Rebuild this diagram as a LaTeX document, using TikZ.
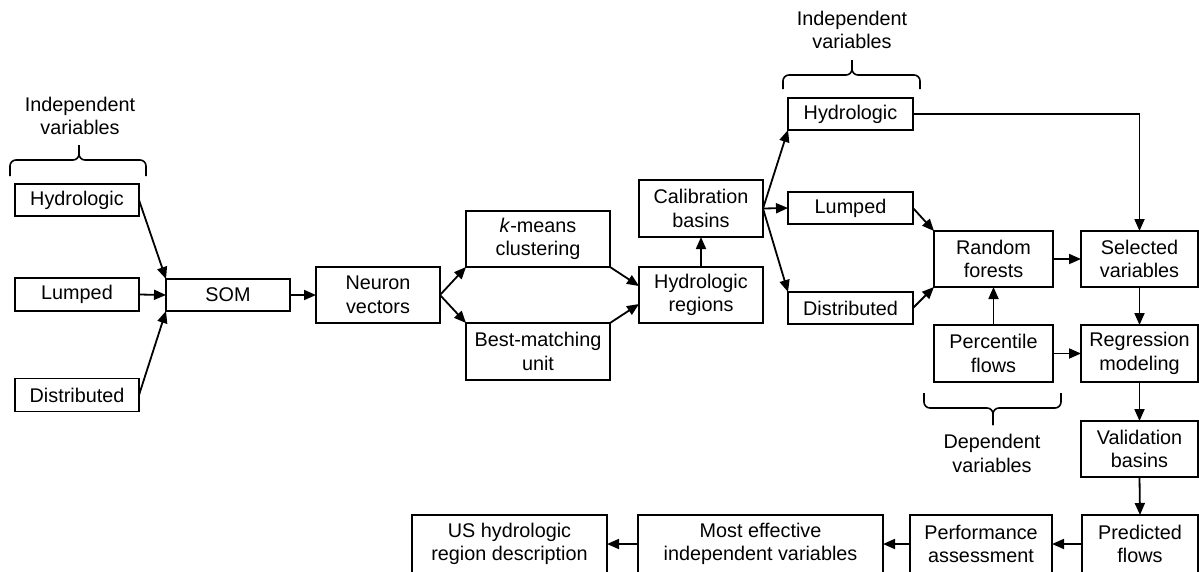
\documentclass[tikz,border=0pt]{standalone}
\usepackage{fontspec}
\setmainfont{Liberation Sans}
\usetikzlibrary{arrows.meta}
\begin{document}
\begin{tikzpicture}[x=1pt,y=-1pt,
  box/.style={draw, line width=1.8pt, align=center, inner sep=2pt, outer sep=0pt, font=\fontsize{19.8}{23.5}\selectfont},
  arr/.style={line width=1.8pt, -{Triangle[length=12pt,width=10pt]}},
  lbl/.style={align=center, inner sep=0pt, font=\fontsize{19.8}{23.5}\selectfont},
  brc/.style={line width=1.6pt, rounded corners=6pt}]
\useasboundingbox (0,0) rectangle (1199,571);

% left column
\node[box, minimum width=124pt, minimum height=32pt] (hl) at (77,200) {Hydrologic};
\node[box, minimum width=124pt, minimum height=33pt] (lu) at (77,294.5) {Lumped};
\node[box, minimum width=124pt, minimum height=33pt] (di) at (77,395) {Distributed};
\node[box, minimum width=124pt, minimum height=32pt] (som) at (228,295) {SOM};
\node[box, minimum width=124pt, minimum height=56pt] (nv) at (378,295) {Neuron\\vectors};
\node[box, minimum width=144pt, minimum height=56pt] (km) at (538,239) {\textit{k}-means\\clustering};
\node[box, minimum width=144pt, minimum height=57pt] (bmu) at (538,351.5) {Best-matching\\unit};
\node[box, minimum width=124pt, minimum height=56pt] (hr) at (701,295) {Hydrologic\\regions};
\node[box, minimum width=124pt, minimum height=57pt] (cb) at (701,208.5) {Calibration\\basins};
\node[box, minimum width=125pt, minimum height=32pt] (hl2) at (850.5,114) {Hydrologic};
\node[box, minimum width=125pt, minimum height=32pt] (lu2) at (850.5,208) {Lumped};
\node[box, minimum width=125pt, minimum height=32pt] (di2) at (850.5,308) {Distributed};
\node[box, minimum width=119pt, minimum height=56pt] (rf) at (993.5,259) {Random\\forests};
\node[box, minimum width=117pt, minimum height=56pt] (sv) at (1139.5,259) {Selected\\variables};
\node[box, minimum width=119pt, minimum height=57pt] (pf) at (993.5,353.5) {Percentile\\flows};
\node[box, minimum width=117pt, minimum height=57pt] (rm) at (1139.5,353.5) {Regression\\modeling};
\node[box, minimum width=117pt, minimum height=56pt] (vb) at (1139.5,449) {Validation\\basins};
\node[box, minimum width=116pt, minimum height=58pt] (pr) at (1140,544) {Predicted\\flows};
\node[box, minimum width=142pt, minimum height=58pt] (pa) at (981,544) {Performance\\assessment};
\node[box, minimum width=245pt, minimum height=58pt] (me) at (760.5,544) {Most effective\\independent variables};
\node[box, minimum width=195pt, minimum height=58pt] (us) at (509.5,544) {US hydrologic\\region description};

% labels
\node[lbl] (t1) at (80,116) {Independent\\variables};
\node[lbl] (t2) at (852,30) {Independent\\variables};
\node[lbl] (t3) at (992,453.5) {Dependent\\variables};

% braces
\draw[brc] (10,176) -- (10,160) -- (79,160) -- (79,145);
\draw[brc] (146,176) -- (146,160) -- (79,160) -- (79,145);
\draw[brc] (783,89) -- (783,75) -- (852,75) -- (852,60);
\draw[brc] (920,89) -- (920,75) -- (852,75) -- (852,60);
\draw[brc] (924,393) -- (924,408) -- (993,408) -- (993,425);
\draw[brc] (1061,393) -- (1061,408) -- (993,408) -- (993,425);

% connectors
\draw[arr] (hl.east) -- (som.north west);
\draw[arr] (lu.east) -- (som.west);
\draw[arr] (di.east) -- (som.south west);
\draw[arr] (som.east) -- (nv.west);
\draw[arr] (nv.east) -- (km.south west);
\draw[arr] (nv.east) -- (bmu.north west);
\draw[arr] (km.south east) -- ([yshift=9pt]hr.west);
\draw[arr] (bmu.north east) -- ([yshift=-9pt]hr.west);
\draw[arr] (hr.north) -- (cb.south);
\draw[arr] (cb.east) -- (hl2.south west);
\draw[arr] (cb.east) -- (lu2.west);
\draw[arr] (cb.east) -- (di2.north west);
\draw[arr] (lu2.east) -- (rf.north west);
\draw[arr] (di2.east) -- (rf.south west);
\draw[arr] (hl2.east) -| (sv.north);
\draw[arr] (rf.east) -- (sv.west);
\draw[arr] (pf.north) -- (rf.south);
\draw[arr] (pf.east) -- (rm.west);
\draw[arr] (sv.south) -- (rm.north);
\draw[arr] (rm.south) -- (vb.north);
\draw[arr] (vb.south) -- (pr.north);
\draw[arr] (pr.west) -- (pa.east);
\draw[arr] (pa.west) -- (me.east);
\draw[arr] (me.west) -- (us.east);
\end{tikzpicture}
\end{document}
